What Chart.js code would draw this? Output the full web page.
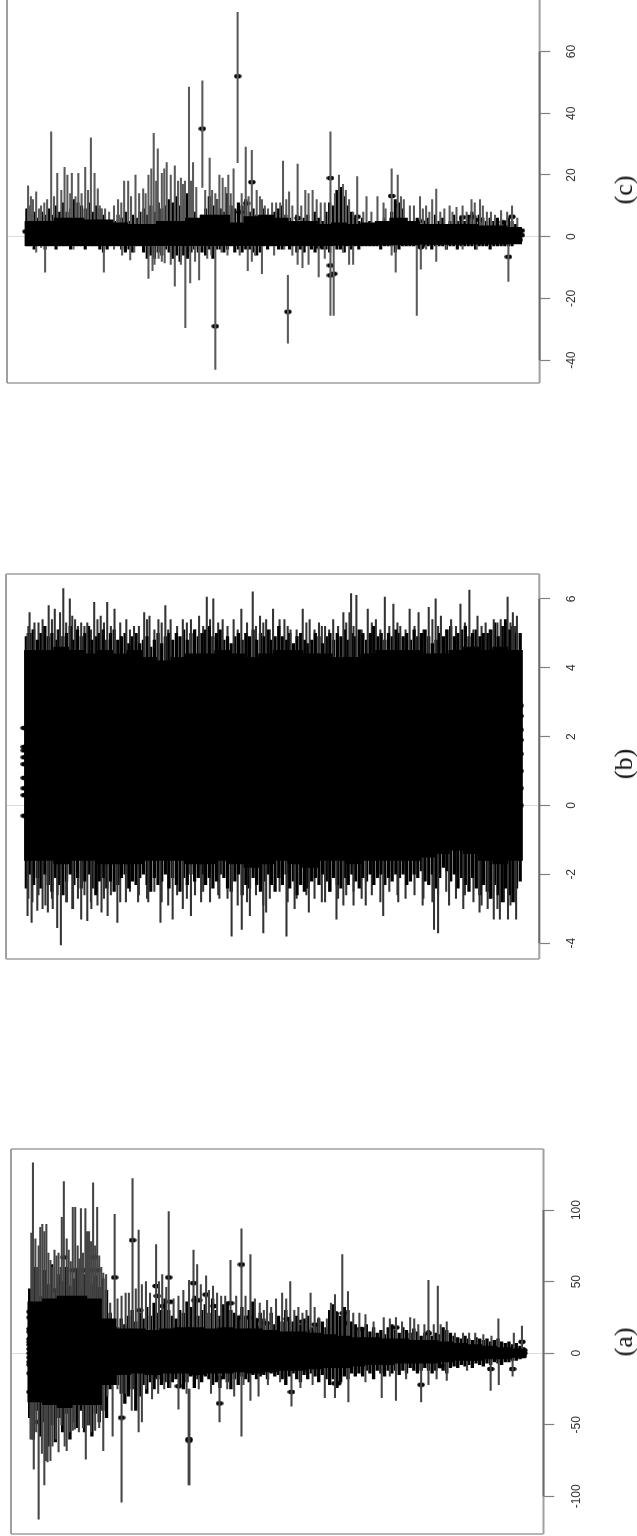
<!DOCTYPE html>
<html><head><meta charset="utf-8">
<script src="https://cdn.jsdelivr.net/npm/chart.js@4/dist/chart.umd.min.js"></script>
<style>
html,body{margin:0;padding:0;background:#fff;width:637px;height:1536px;overflow:hidden}
.p{position:absolute;filter:blur(.35px)}
.l{position:absolute;font-family:"Liberation Serif",serif;font-size:26px;color:#111;transform:translate(-50%,-50%) rotate(-90deg);white-space:nowrap}
</style></head><body>
<canvas id="cc" class="p"></canvas><canvas id="cb" class="p"></canvas><canvas id="ca" class="p"></canvas>
<div class="l" style="left:624px;top:190px">(c)</div>
<div class="l" style="left:624px;top:764px">(b)</div>
<div class="l" style="left:624px;top:1342px">(a)</div>
<script>
/* ---------- panel (c) ---------- */
const ticksC=[-40,-20,0,20,40,60];
const upXC=[68,75,88,100,115,125,140,158,165,176,192,209,223,232,240,250,258,268,280,290,305,315,333,352,365,378,388,398,410,430,445,455,465,475,516,530,540,548,562,575,605,620,632,645,660,680,697,712,733,752,770,790,814,835,845,860,880,903,930,945,965,980,995,1010,1035,1050,1065,1075,1095,1108,1125,1140,1162,1183,1200,1220,1235,1262,1275,72,80,95,108,132,150,172,185,200,216,245,298,322,342,358,372,384,404,420,438,450,470,483,505,522,535,555,568,595,612,640,652,670,690,705,720,742,760,780,800,825,852,870,895,915,950,988,1020,1042,1058,1085,1115,1150,1170,1190,1210,1250];
const upHiC=[16.5,13,14.5,10,12,34,20.5,22.5,20,20.5,20.5,22.5,32,20.5,15.5,9,9,8,10,12,18,18,20,15.5,20,33.5,28.5,20.5,24,23,19,18,48.5,24,25.5,14,20,19,20,22,29,28,15,12,9,11,24.5,14.5,23.5,15,15,11,34,20,17,12,19.5,13,13,11,22,20,12,10,13,10,12,15.4,9,10,9.5,10,12,12,8,7,8.5,10,6,10,12,9,11,13,15,14,13,14,15,10,11,13,14,14,22,18,22,20,18,17,18,16,15,15,12,16,14,14,13,13,10,11,11,12,10,10,14,12,11,14,15,8,8,8,9,13,10,9,8,8,8,8,11,10,8,8];
const downXC=[68,88,110,180,255,300,320,365,375,390,405,430,456,468,490,510,530,560,610,628,645,675,733,745,760,785,814,822,860,870,965,975,1027,1037,1075,1140,1175,1253,100,140,280,330,380,398,420,445,480,520,545,590,620,700,720,800,845,1050,1100];
const downLoC=[-3,-5,-11.5,-4,-11.5,-6,-7.5,-13.5,-11,-7,-8.5,-16,-29.5,-15,-14,-7,-43,-6,-11,-6,-12,-6,-9,-10,-9,-13,-25.5,-25.5,-9,-9,-6,-11.5,-25.5,-10.5,-8,-4,-4,-14.5,-3.5,-3,-4,-5,-9,-8,-9,-9,-8,-6,-5,-6,-8,-4,-6,-7,-5,-4,-4];
const floatXC=[498,585,709];
const floatLoC=[16,24,-34.5];
const floatHiC=[50.5,72.7,-12.5];
const denseHiC=[9,7,8,6,8,7,9,7,10,8,11,8,9,12,11,10,9,11,8,10,9,7,5,4,5,7,6,8,5,7,6,8,9,7,10,8,11,9,10,12,11,13,10,12,14,11,8,5,7,9,13,10,12,9,8,14,10,9,11,10,12,8,9,7,6,9,7,6,8,9,10,7,6,5,7,5,6,7,5,8,6,5,8,11,10,15,16,13,10,8,6,5,6,4,5,4,5,5,6,4,8,12,11,9,6,5,5,6,4,5,6,4,7,5,6,4,5,7,5,6,5,7,8,6,7,6,5,6,5,6,4,5,6,5,4,3];
const denseLoC=[-3,-3,-4,-3,-3,-4,-3,-3,-4,-3,-3,-3,-4,-3,-3,-3,-4,-3,-3,-3,-4,-5,-4,-3,-3,-3,-4,-5,-4,-5,-3,-3,-5,-7,-6,-7,-5,-6,-4,-5,-7,-6,-8,-6,-7,-5,-4,-5,-5,-6,-4,-7,-4,-4,-5,-4,-3,-5,-4,-5,-4,-4,-5,-6,-5,-3,-4,-3,-3,-4,-4,-3,-4,-3,-5,-4,-5,-3,-4,-5,-3,-4,-4,-5,-3,-4,-4,-5,-3,-4,-3,-4,-3,-3,-3,-3,-3,-4,-3,-3,-3,-5,-4,-3,-3,-3,-3,-3,-4,-3,-3,-4,-3,-3,-3,-4,-3,-3,-4,-3,-3,-3,-3,-4,-3,-3,-3,-4,-3,-3,-3,-3,-3,-3,-2,-2];
const coreHiC=[5,5,6,6,5.5,5.5,4.5,4,4,5,5,6,7,7,4.5,6.5,7,6,5,5,4,4.5,4,4.5,5,6,5,4,4,4,4,3.5,3.5,3];
const coreLoC=[-2.9,-2.9,-2.9,-2.9,-2.9,-2.9,-2.9,-2.9,-2.9,-2.9,-2.9,-2.9,-2.9,-2.9,-2.9,-2.9,-2.9,-2.9,-2.9,-2.9,-2.9,-2.8,-2.8,-2.8,-2.7,-2.7,-2.7,-2.5,-2.5,-2.5,-2.4,-2.4,-2.4,-2.3];
const dotXC=[63,498,585,620,607,590,814,832,965,980,735,880,865,1037,1140,1165,1183,1240,1262,530,709,814,814,822,785,1037,1253,1280,1285,1280,1285];
const dotYC=[1.7,35,52,17.7,10.8,8,19,13,13.2,10,6,6.5,5.5,5,6.3,6.5,5.5,4.7,6.5,-29,-24.3,-9.3,-12.5,-12,-3.2,-3.3,-6.5,1.5,0.5,-1,2];

/* ---------- panel (b) ---------- */
const ticksB=[-4,-2,0,2,4,6];
const upXB=[68,73,85,105,120,135,148,156,172,185,200,215,232,248,264,282,311,330,355,368,390,407,420,450,470,490,509,525,548,575,594,622,640,655,672,700,715,745,762,785,800,820,845,860,864,877,905,925,947,968,985,1008,1030,1055,1072,1085,1110,1133,1155,1175,1195,1215,1232,1249,1262,1272];
const upHiB=[5,5.6,5.3,5.4,5.8,5.7,5.6,6.3,6,5.4,5.3,5.3,5.9,5.5,5.9,5.7,5.4,5.2,5.6,5.5,5.4,5.8,5.4,5.4,5.4,5.5,6.05,6,5.4,5.4,5.7,6.2,5.5,5.4,5.7,5.4,5.1,5.7,5.4,5.3,5.2,5.4,5.6,5.6,6.15,6.1,5.7,5.4,6.05,5.85,5.2,5.7,5.6,5.75,6,5.5,5.4,5.85,6.25,5.5,5.3,5.4,5.4,6.05,5.6,5.5];
const downXB=[68,78,92,105,118,130,141,150,165,180,200,215,225,250,265,289,310,340,365,395,425,450,470,495,540,570,595,615,648,655,705,725,760,800,828,845,870,900,943,980,1040,1068,1078,1105,1140,1180,1200,1215,1230,1250,1270];
const downLoB=[-3.2,-3.4,-3.05,-3,-3.1,-3,-3.55,-4.05,-2.8,-3,-3.3,-3.35,-3,-3.1,-3.2,-3.4,-2.8,-2.8,-2.8,-3.4,-3.3,-3,-3.2,-2.8,-2.7,-3.8,-3.6,-3.2,-3.7,-3.1,-3.8,-3,-3.1,-2.8,-3.3,-2.9,-2.9,-2.9,-3.2,-2.8,-2.9,-3.6,-3.7,-2.9,-3,-3.1,-3,-3.3,-3.3,-3.3,-3.3];
const fineXB=[70,80,95,112,128,142,163,178,192,208,224,240,256,273,296,320,342,362,380,398,414,436,460,480,500,517,537,560,585,608,630,648,664,688,708,730,754,774,792,810,832,852,870,890,915,936,958,978,998,1020,1042,1064,1078,1098,1122,1144,1165,1185,1205,1224,1240,1256,1268];
const fineHiB=[5.2,5.1,5.3,5.2,5.4,5.1,5.3,5.5,5.2,5.2,5.1,5.4,5.3,5.2,5.3,5.1,5.2,5.4,5.1,5.3,5.1,5.2,5.3,5.1,5.2,5.4,5.3,5.2,5.1,5.3,5.2,5.3,5.1,5.4,5.2,5.1,5.3,5.1,5.2,5.1,5.2,5.3,5.2,5.1,5.3,5.1,5.2,5.3,5.1,5.2,5.1,5.4,5.2,5.1,5.2,5.3,5.1,5.2,5.1,5.3,5.2,5.3,5.2];
const fineLoB=[-2.7,-2.8,-2.6,-2.9,-2.7,-2.6,-2.8,-3,-2.7,-2.6,-2.8,-2.9,-2.7,-2.6,-2.8,-2.5,-2.6,-2.7,-2.5,-2.8,-2.9,-2.6,-2.7,-2.6,-2.5,-2.8,-2.6,-2.7,-2.9,-2.8,-2.6,-2.9,-2.7,-2.5,-2.8,-2.7,-2.6,-2.7,-2.8,-2.5,-2.7,-2.6,-2.5,-2.7,-2.6,-2.8,-2.5,-2.6,-2.7,-2.6,-2.7,-2.8,-2.6,-2.5,-2.7,-2.6,-2.8,-2.9,-2.7,-3,-2.8,-2.9,-2.8];
const denseHiB=[4.9,5,5.1,4.8,5,5.2,4.9,5,4.8,5.1,4.9,5,5.2,4.8,5.1,4.9,5,5.2,4.8,4.9,5,5.1,4.8,5,5.1,4.8,4.9,5,4.7,4.9,5,4.7,4.8,4.9,4.6,4.8,5,4.7,4.9,5,4.8,5,4.9,5.1,4.8,5,5.1,4.9,5,5.1,5.2,4.9,5,5.1,4.8,4.9,4.7,4.9,5,4.8,5,4.9,5.1,4.8,5,4.9,5.1,4.8,4.9,5.2,4.9,4.8,5,4.7,4.9,5,4.8,4.7,4.8,5,4.9,4.7,4.9,5,4.8,5,4.9,5.1,4.8,5,4.9,5.1,5,4.8,5,5.2,4.9,5,4.8,5,4.9,5.1,5,4.9,5,4.8,5.1,4.9,5,5.1,4.9,4.7,4.8,5,4.9,5.1,5.2,4.9,5,5.1,5.2,4.9,5,5.1,4.9,5,5,5.1,5.3,4.9,5.2,5.4,5.1,5.2,5,5];
const denseLoB=[-2.4,-2,-2.3,-2.1,-2.4,-2,-2.3,-2.5,-2.1,-2.3,-2.6,-2.2,-2,-2.3,-2.1,-2.4,-2.2,-2,-2.4,-2.6,-2.2,-2.1,-2.4,-2.2,-2.5,-2.3,-2.1,-2,-2.4,-2.2,-2.3,-2.1,-2,-2.3,-2.5,-2.1,-2.3,-2.2,-2,-2.4,-2.1,-2.3,-2.5,-2.1,-2.3,-2,-2.2,-2.1,-2,-2.3,-2.1,-2.4,-2.2,-2,-2.1,-2.4,-2.5,-2.2,-2,-2.6,-2.3,-2.4,-2.1,-2.3,-2.5,-2.2,-2,-2.3,-2.5,-2.1,-2.3,-2,-2.4,-2.2,-2.6,-2.3,-2.5,-2.4,-2.2,-2.1,-2.3,-2,-2.2,-2.5,-2.1,-2.3,-2.4,-2.1,-2.3,-2,-2.2,-2.4,-2.1,-2.2,-2,-2.3,-2.1,-2,-2.3,-2.1,-2.2,-2,-2.1,-2,-2.3,-2.2,-2,-2.1,-1.9,-2.2,-2.3,-2,-2.4,-2.1,-1.8,-1.9,-2.2,-2,-2.4,-2.1,-2.3,-2.5,-2.1,-2.4,-2.6,-2.3,-2.5,-2.7,-2.3,-2.6,-2.8,-2.4,-2.6,-2.8,-2.4,-2.2];
const coreHiB=[4.5,4.5,4.6,4.5,4.4,4.5,4.4,4.5,4.3,4.2,4.3,4.4,4.4,4.5,4.4,4.3,4.4,4.5,4.5,4.4,4.4,4.3,4.3,4.4,4.5,4.5,4.5,4.4,4.4,4.5,4.6,4.5,4.6,4.5];
const coreLoB=[-1.6,-1.6,-1.7,-1.6,-1.6,-1.7,-1.7,-1.7,-1.6,-1.6,-1.6,-1.7,-1.7,-1.6,-1.7,-1.8,-1.7,-1.6,-1.7,-1.8,-1.6,-1.6,-1.7,-1.6,-1.6,-1.6,-1.6,-1.5,-1.4,-1.3,-1.4,-1.6,-1.7,-1.6];
const dotXB=[60,60,60,60,60,60,60,60,60,1280,1280,1280,1280,1280,1280,1280,1280];
const dotYB=[2.25,1.7,1.6,1.4,1.2,0.8,0.5,0.3,-0.3,2.9,2.6,2.2,1.9,1.5,1,0.5,0];

/* ---------- panel (a) ---------- */
const ticksA=[-100,-50,0,50,100];
const upXA=[82,88,100,105,115,125,135,145,153,158,165,180,186,200,211,220,230,240,250,262,283,300,318,327,342,360,385,400,416,440,466,477,486,508,525,545,568,582,595,617,640,658,680,695,715,725,745,765,785,825,843,857,885,900,945,975,1010,1030,1055,1078,1100,1140,1170,1190,1227,1265,1285,78,92,96,110,120,130,140,150,170,175,192,196,205,215,225,235,245,255,272,290,310,335,350,370,392,410,428,452,495,515,535,555,605,628,650,668,705,735,755,775,805,815,870,920,960,990,1020,1045,1068,1085,1120,1155,1210];
const upHiA=[133,80,88,90,90,65,72,70,95,120,80,102,102,101,101,85,119,102,60,55,97,40,42,122,86,50,76,55,99,40,51,72,62,54,47,40,65,40,87,69,35,37,38,42,50,30,28,42,25,41,69,43,28,27,25,25,25,20,51,47,22,14,14,13,24,14,19,84,60,75,85,70,60,68,60,72,64,75,66,70,85,78,75,68,56,35,38,42,45,48,42,50,46,38,44,48,44,42,40,40,38,30,32,38,32,30,32,24,35,28,22,24,22,24,20,20,20,14,14,12];
const downXA=[80,84,96,110,118,125,145,160,165,185,212,218,235,255,278,300,342,350,375,405,440,541,577,595,617,637,718,800,825,858,940,975,1037,1055,1100,1208,1228,1262,76,90,104,114,130,138,152,172,180,195,205,225,245,265,290,310,325,360,390,420,460,490,520,560,600,660,690,740,770,900,960,1000,1075,1150];
const downLoA=[-60,-81,-116,-92,-76,-75,-69,-65,-68,-53,-74,-50,-54,-68,-58,-104,-55,-48,-32,-25,-39,-48,-30,-58,-33,-30,-37,-31,-31,-34,-31,-33,-34,-22,-19,-26,-22,-16,-60,-55,-70,-75,-65,-60,-50,-55,-54,-55,-52,-55,-52,-30,-25,-28,-40,-25,-28,-24,-28,-25,-28,-25,-22,-22,-20,-24,-22,-20,-16,-18,-18,-12];
const floatXA=[465,467];
const floatLoA=[-92,-92];
const floatHiA=[-25,-25];
const denseHiA=[45,60,52,40,58,48,62,44,55,50,60,47,52,58,45,55,50,48,54,46,52,44,28,22,18,24,20,26,30,22,28,24,32,26,35,28,30,38,30,26,24,30,28,36,32,40,26,30,34,28,38,30,26,34,36,30,28,25,32,26,30,36,24,28,24,22,28,20,26,22,30,24,22,26,20,24,26,18,20,24,22,18,30,34,28,26,32,30,22,20,18,16,20,15,18,14,16,13,18,20,16,14,18,16,14,17,15,12,14,16,12,14,13,18,16,14,12,11,10,12,10,9,11,10,9,10,8,9,10,8,7,8,6,7,5,4];
const denseLoA=[-45,-60,-40,-58,-48,-65,-50,-62,-45,-55,-42,-60,-48,-52,-40,-55,-50,-58,-42,-48,-40,-45,-25,-18,-22,-28,-35,-30,-25,-40,-30,-22,-28,-20,-25,-18,-22,-20,-24,-20,-18,-22,-25,-20,-16,-24,-18,-20,-16,-18,-22,-20,-24,-18,-20,-25,-18,-22,-16,-18,-20,-15,-18,-16,-15,-18,-14,-16,-15,-18,-22,-16,-14,-18,-20,-15,-18,-14,-16,-20,-15,-18,-22,-18,-24,-20,-16,-18,-14,-16,-14,-16,-12,-14,-18,-12,-14,-16,-12,-14,-12,-15,-12,-14,-10,-12,-14,-12,-10,-12,-14,-12,-10,-12,-14,-10,-9,-10,-8,-9,-8,-10,-7,-8,-9,-7,-8,-6,-7,-8,-6,-6,-5,-5,-4,-3];
const coreHiA=[36,38,40,40,38,24,17,17,16,17,18,18,17,18,17,17,16,15,15,14,13,12,11,11,10,10,9,9,8,7,6,5,4,3];
const coreLoA=[-34,-36,-38,-36,-36,-22,-15,-14,-15,-14,-14,-15,-14,-14,-13,-14,-13,-12,-12,-11,-10,-10,-9,-8,-8,-7,-7,-7,-6,-5,-5,-4,-4,-3];
const dotXA=[327,232,158,283,416,595,385,477,388,508,420,480,490,527,568,402,345,135,180,190,200,210,225,240,300,95,466,466,541,718,1037,1208,1262,825,832,825,845,743,708,440,1285,1055,1085,130,210,280,378,540,480,590,615,632,630,655,765,775,820,850,890,975,75,75,75,75,75,75,75,75,75,75,75,75,75,75,1290,1290,1288];
const dotYA=[79,67,67,53,53,62,47,49,40,41,36,37,37,33,35,33,30,44,58,58,58,58,58,58,-45,-48,-60,-61,-35,-27,-22,-11,-11,-21,-21,28,28,22,24,-23,8,14,-9,-28,-29,-19,-16,-17,-14,25,25,23,18,21,15,20,17,21,17,18,29,25,17,15,10,8,6,3,0,-3,-6,-8,-14,-27,2,0,-2];

/* ---------- drawing ---------- */
const dot=document.createElement('canvas');dot.width=8;dot.height=6;
{const g=dot.getContext('2d');g.fillStyle='#000';g.beginPath();g.ellipse(4,3,3.7,2.3,0,0,7);g.fill();}
const pair=(xs,los,his)=>xs.map((x,i)=>({x,y:[los[i],his[i]]}));
const bars=(data,thick,color)=>({type:'bar',data,barThickness:thick,backgroundColor:color,borderWidth:0,grouped:false});
const frame={id:'frame',afterDatasetsDraw(ch){
  const a=ch.chartArea,g=ch.ctx,s=ch.scales.y,t=s.ticks;
  g.save();g.strokeStyle='#a0a0a0';
  g.lineWidth=1.4;g.beginPath();g.moveTo(a.left,a.top);g.lineTo(a.right,a.top);g.moveTo(a.left,a.bottom);g.lineTo(a.right,a.bottom);g.stroke();
  g.lineWidth=2;g.beginPath();g.moveTo(a.left,a.top);g.lineTo(a.left,a.bottom);g.moveTo(a.right,a.top);g.lineTo(a.right,a.bottom);g.stroke();
  g.strokeStyle='#6a6a6a';g.lineWidth=1.8;g.beginPath();
  g.moveTo(a.right,s.getPixelForValue(t[0].value));g.lineTo(a.right,s.getPixelForValue(t[t.length-1].value));g.stroke();
  g.restore();}};
function panel(id,cfg){
  const c=document.getElementById(id);
  const wpx=Math.ceil(cfg.w)+90;
  c.width=wpx;c.height=cfg.h+4;
  c.style.left=(cfg.left-2)+'px';c.style.top=(cfg.top-2)+'px';
  c.style.width=wpx+'px';c.style.height=(cfg.h+4)+'px';
  const denseX=cfg.denseHi.map((_,i)=>cfg.start+9*i), coreX=cfg.coreHi.map((_,i)=>cfg.start+14+36*i);
  const ups=cfg.upX.map((x,i)=>({x,y:[0,cfg.upHi[i]]})), downs=cfg.downX.map((x,i)=>({x,y:[cfg.downLo[i],0]}));
  const ds=[bars(pair(coreX,cfg.coreLo,cfg.coreHi),15.2,'#000'),
    bars(ups,1.4,cfg.spikeColor),bars(downs,1.4,cfg.spikeColor),
    bars(pair(denseX,cfg.denseLo,cfg.denseHi),cfg.denseWidth,cfg.denseColor)];
  if(cfg.floatX) ds.push(bars(pair(cfg.floatX,cfg.floatLo,cfg.floatHi),1.4,cfg.spikeColor));
  if(cfg.fineX) ds.push(bars(pair(cfg.fineX,cfg.fineLo,cfg.fineHi),1.4,cfg.spikeColor));
  ds.push({type:'scatter',data:cfg.dotX.map((x,i)=>({x,y:cfg.dotY[i]})),pointStyle:dot,pointRadius:3,showLine:false});
  new Chart(c,{data:{datasets:ds},plugins:[frame],options:{
    responsive:false,animation:false,devicePixelRatio:1,
    layout:{autoPadding:false,padding:{left:2,top:2,bottom:2,right:0}},
    plugins:{legend:{display:false},tooltip:{enabled:false}},
    scales:{
      x:{type:'linear',min:cfg.xMin,max:cfg.xMax,display:false,offset:false},
      y:{type:'linear',position:'right',min:cfg.yMin,max:cfg.yMax,
        afterBuildTicks(ax){ax.ticks=cfg.ticks.map(value=>({value}));},
        afterFit(ax){ax.width=wpx-2-cfg.w;ax.paddingTop=0;ax.paddingBottom=0;},
        border:{display:false},
        grid:{drawOnChartArea:true,drawTicks:true,tickLength:10.7,tickColor:'#808080',tickWidth:1.2,
          color:ctx=>ctx.tick&&ctx.tick.value===0?'#dcdcdc':'rgba(0,0,0,0)',lineWidth:1},
        ticks:{minRotation:90,maxRotation:90,crossAlign:'center',padding:cfg.pad,color:'#333',
          font:{family:'"Liberation Sans",sans-serif',size:12}}
      }}}});
}
panel('cc',{left:6.7,top:-10,w:532.6,h:393,xMin:16,xMax:1330,yMin:-47.4,yMax:79.93,ticks:ticksC,pad:13,start:65,
   upX:upXC,upHi:upHiC,downX:downXC,downLo:downLoC,floatX:floatXC,floatLo:floatLoC,floatHi:floatHiC,
   denseHi:denseHiC,denseLo:denseLoC,coreHi:coreHiC,coreLo:coreLoC,dotX:dotXC,dotY:dotYC,denseColor:'#000',denseWidth:2.5,spikeColor:'#5a5a5a'});
panel('cb',{left:6.1,top:574,w:533.3,h:385,xMin:15,xMax:1327,yMin:-4.46,yMax:6.72,ticks:ticksB,pad:16.3,start:65,
   upX:upXB,upHi:upHiB,downX:downXB,downLo:downLoB,fineX:fineXB,fineLo:fineLoB,fineHi:fineHiB,
   denseHi:denseHiB,denseLo:denseLoB,coreHi:coreHiB,coreLo:coreLoB,dotX:dotXB,dotY:dotYB,denseColor:'#000',denseWidth:2.6,spikeColor:'#333'});
panel('ca',{left:11.4,top:1149,w:532.5,h:385,xMin:28,xMax:1338,yMin:-126.3,yMax:142.7,ticks:ticksA,pad:10.4,start:74,
   upX:upXA,upHi:upHiA,downX:downXA,downLo:downLoA,floatX:floatXA,floatLo:floatLoA,floatHi:floatHiA,
   denseHi:denseHiA,denseLo:denseLoA,coreHi:coreHiA,coreLo:coreLoA,dotX:dotXA,dotY:dotYA,denseColor:'#000',denseWidth:2.7,spikeColor:'#444'});
</script></body></html>
